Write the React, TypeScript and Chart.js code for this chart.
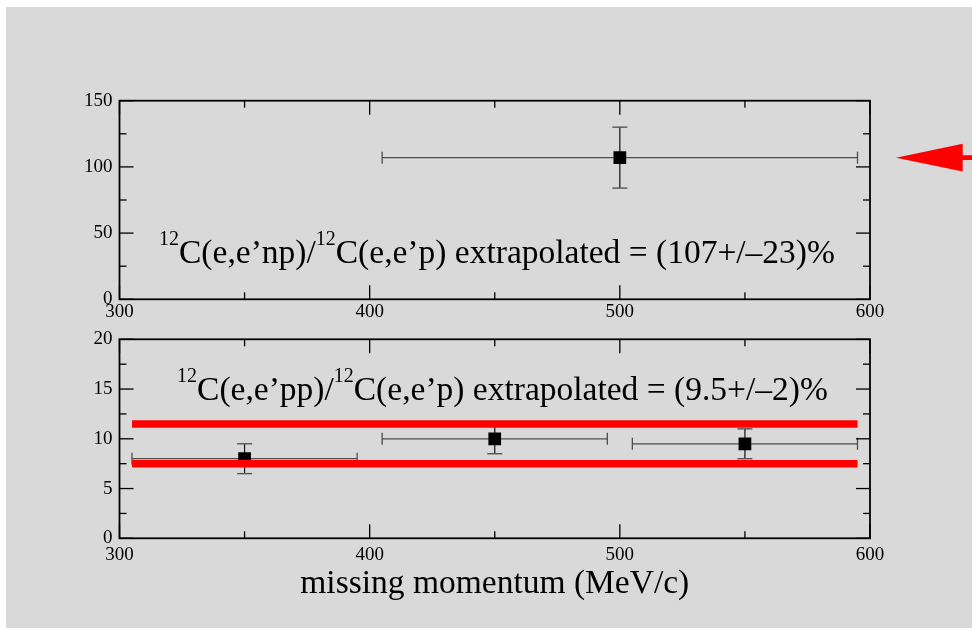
import { useEffect, useRef } from "react";
import { Chart, registerables } from "chart.js";

Chart.register(...registerables);

const SERIF = '"Liberation Serif", "Times New Roman", Times, serif';

// Shared missing-momentum axis (MeV/c)
const momentumRange = [300, 600];
const momentumStep = 100;

// Upper panel: np / p ratio (%)
const npAxisRange = [0, 150];
const npAxisStep = 50;
const npMomentum = [500];
const npMomentumErr = [95];
const npRatio = [107];
const npRatioErr = [23];
const npExtrapolated = 107;
const npExtrapolatedErr = 23;

// Lower panel: pp / p ratio (%)
const ppAxisRange = [0, 20];
const ppAxisStep = 5;
const ppMomentum = [350, 450, 550];
const ppMomentumErr = [45, 45, 45];
const ppRatio = [8, 10, 9.5];
const ppRatioErr = [1.5, 1.5, 1.5];
const ppExtrapolated = 9.5;
const ppExtrapolatedErr = 2;
const ppBandRange = [305, 595];

// Where the caption text starts, in data coordinates [momentum, ratio]
const npNoteAt = [315.8, 27.4];
const ppNoteAt = [323, 13.9];

type Part = [string, boolean];

const npNote: Part[] = [
  ["12", true],
  ["C(e,e\u2019np)/", false],
  ["12", true],
  [`C(e,e\u2019p) extrapolated = (${npExtrapolated}+/\u2013${npExtrapolatedErr})%`, false],
];
const ppNote: Part[] = [
  ["12", true],
  ["C(e,e\u2019pp)/", false],
  ["12", true],
  [`C(e,e\u2019p) extrapolated = (${ppExtrapolated}+/\u2013${ppExtrapolatedErr})%`, false],
];

function seg(ctx: CanvasRenderingContext2D, x1: number, y1: number, x2: number, y2: number) {
  ctx.beginPath();
  ctx.moveTo(x1, y1);
  ctx.lineTo(x2, y2);
  ctx.stroke();
}

function errorBarPlugin(xs: number[], xe: number[], ys: number[], ye: number[]) {
  return {
    id: "errorBars",
    beforeDatasetsDraw(chart: any) {
      const { ctx } = chart;
      const x = chart.scales.x;
      const y = chart.scales.y;
      ctx.save();
      xs.forEach((v, i) => {
        const px = x.getPixelForValue(v);
        const py = y.getPixelForValue(ys[i]);
        const xl = x.getPixelForValue(v - xe[i]);
        const xr = x.getPixelForValue(v + xe[i]);
        const yt = y.getPixelForValue(ys[i] + ye[i]);
        const yb = y.getPixelForValue(ys[i] - ye[i]);
        ctx.strokeStyle = "#4d4d4d";
        ctx.lineWidth = 1.3;
        seg(ctx, xl, py, xr, py);
        seg(ctx, xl, py - 6, xl, py + 6);
        seg(ctx, xr, py - 6, xr, py + 6);
        ctx.strokeStyle = "#111";
        ctx.lineWidth = 1.2;
        seg(ctx, px, yt, px, yb);
        ctx.strokeStyle = "#555";
        ctx.lineWidth = 1.4;
        seg(ctx, px - 7.5, yt, px + 7.5, yt);
        seg(ctx, px - 7.5, yb, px + 7.5, yb);
      });
      ctx.restore();
    },
  };
}

// Closed frame with inward major and minor ticks on every side
const framePlugin = {
  id: "frame",
  afterDatasetsDraw(chart: any) {
    const { ctx, chartArea: a } = chart;
    ctx.save();
    ctx.strokeStyle = "#000";
    ctx.lineWidth = 1.3;
    const draw = (scale: any, horizontal: boolean) => {
      const vals: number[] = scale.ticks.map((t: any) => t.value);
      const marks: [number, number][] = [];
      vals.forEach((v, i) => {
        marks.push([v, 14]);
        if (i < vals.length - 1) marks.push([(v + vals[i + 1]) / 2, 7]);
      });
      marks.forEach(([v, len]) => {
        const p = scale.getPixelForValue(v);
        if (horizontal) {
          seg(ctx, p, a.bottom, p, a.bottom - len);
          seg(ctx, p, a.top, p, a.top + len);
        } else {
          seg(ctx, a.left, p, a.left + len, p);
          seg(ctx, a.right, p, a.right - len, p);
        }
      });
    };
    draw(chart.scales.x, true);
    draw(chart.scales.y, false);
    ctx.lineWidth = 1.8;
    ctx.strokeRect(a.left, a.top, a.right - a.left, a.bottom - a.top);
    ctx.restore();
  },
};

function notePlugin(parts: Part[], at: number[]) {
  return {
    id: "note",
    afterDraw(chart: any) {
      const { ctx } = chart;
      let cx = chart.scales.x.getPixelForValue(at[0]);
      const by = chart.scales.y.getPixelForValue(at[1]);
      ctx.save();
      ctx.fillStyle = "#000";
      ctx.textBaseline = "alphabetic";
      ctx.textAlign = "left";
      parts.forEach(([t, sup]) => {
        ctx.font = sup ? `20px ${SERIF}` : `33.5px ${SERIF}`;
        ctx.fillText(t, cx, sup ? by - 18 : by);
        cx += ctx.measureText(t).width;
      });
      ctx.restore();
    },
  };
}

// Red arrow outside the right frame pointing at the extrapolated value
const arrowPlugin = {
  id: "arrow",
  afterDraw(chart: any) {
    const { ctx, chartArea: a, width } = chart;
    const ay = chart.scales.y.getPixelForValue(npExtrapolated);
    const tip = a.right + 26;
    const base = a.right + 92.7;
    ctx.save();
    ctx.fillStyle = "#ff0000";
    ctx.beginPath();
    ctx.moveTo(tip, ay);
    ctx.lineTo(base, ay - 13.8);
    ctx.lineTo(base, ay + 13.8);
    ctx.closePath();
    ctx.fill();
    ctx.fillRect(base - 1, ay - 2.4, width - base + 1, 4.8);
    ctx.restore();
  },
};

function axes(yRange: number[], yStep: number, xHeight: number, xPad: number, title?: string) {
  const tickFont = { family: SERIF, size: 19 };
  return {
    x: {
      type: "linear" as const,
      min: momentumRange[0],
      max: momentumRange[1],
      ticks: { stepSize: momentumStep, font: tickFont, color: "#000", padding: xPad, maxRotation: 0, autoSkip: false },
      grid: { display: false, drawTicks: false },
      border: { display: false },
      title: title
        ? { display: true, text: title, color: "#000", font: { family: SERIF, size: 33.5 }, padding: { top: 0, bottom: 24 } }
        : { display: false },
      afterFit(s: any) {
        s.height = xHeight;
      },
    },
    y: {
      type: "linear" as const,
      min: yRange[0],
      max: yRange[1],
      ticks: { stepSize: yStep, font: tickFont, color: "#000", padding: 7 },
      grid: { display: false, drawTicks: false },
      border: { display: false },
      afterFit(s: any) {
        s.width = 113.5;
      },
    },
  };
}

const markerStyle = {
  pointStyle: "rect" as const,
  pointRadius: 9,
  pointHoverRadius: 9,
  backgroundColor: "#000",
  borderColor: "#000",
  borderWidth: 0,
  showLine: false,
  order: 1,
};

function bandLine(level: number) {
  return {
    type: "line" as const,
    data: ppBandRange.map((m) => ({ x: m, y: level })),
    borderColor: "#ff0000",
    borderWidth: 7.5,
    borderCapStyle: "butt" as const,
    pointRadius: 0,
    fill: false,
    order: 0,
  };
}

export default function App() {
  const topRef = useRef<HTMLCanvasElement>(null);
  const botRef = useRef<HTMLCanvasElement>(null);

  useEffect(() => {
    const common = {
      responsive: false,
      animation: false as const,
      devicePixelRatio: 1,
      events: [] as any[],
      plugins: { legend: { display: false }, tooltip: { enabled: false } },
    };

    const top = new Chart(topRef.current!, {
      type: "scatter",
      data: {
        datasets: [
          { ...markerStyle, data: npMomentum.map((m, i) => ({ x: m, y: npRatio[i] })) },
        ],
      },
      options: {
        ...common,
        layout: { padding: { top: 93.7, right: 102, left: 0, bottom: 0 } },
        scales: axes(npAxisRange, npAxisStep, 20.7, 1),
      } as any,
      plugins: [
        errorBarPlugin(npMomentum, npMomentumErr, npRatio, npRatioErr),
        framePlugin,
        notePlugin(npNote, npNoteAt),
        arrowPlugin,
      ],
    });

    const bottom = new Chart(botRef.current!, {
      type: "scatter",
      data: {
        datasets: [
          bandLine(ppExtrapolated + ppExtrapolatedErr) as any,
          bandLine(ppExtrapolated - ppExtrapolatedErr) as any,
          { ...markerStyle, data: ppMomentum.map((m, i) => ({ x: m, y: ppRatio[i] })) },
        ],
      },
      options: {
        ...common,
        layout: { padding: { top: 19.3, right: 102, left: 0, bottom: 0 } },
        scales: axes(ppAxisRange, ppAxisStep, 89.7, 5, "missing momentum (MeV/c)"),
      } as any,
      plugins: [
        errorBarPlugin(ppMomentum, ppMomentumErr, ppRatio, ppRatioErr),
        framePlugin,
        notePlugin(ppNote, ppNoteAt),
      ],
    });

    return () => {
      top.destroy();
      bottom.destroy();
    };
  }, []);

  return (
    <div
      style={{
        position: "absolute",
        left: 6,
        top: 7,
        width: 966,
        height: 621,
        background: "#d9d9d9",
      }}
    >
      <canvas ref={topRef} width={966} height={313} style={{ position: "absolute", left: 0, top: 0 }} />
      <canvas ref={botRef} width={966} height={308} style={{ position: "absolute", left: 0, top: 313 }} />
    </div>
  );
}
